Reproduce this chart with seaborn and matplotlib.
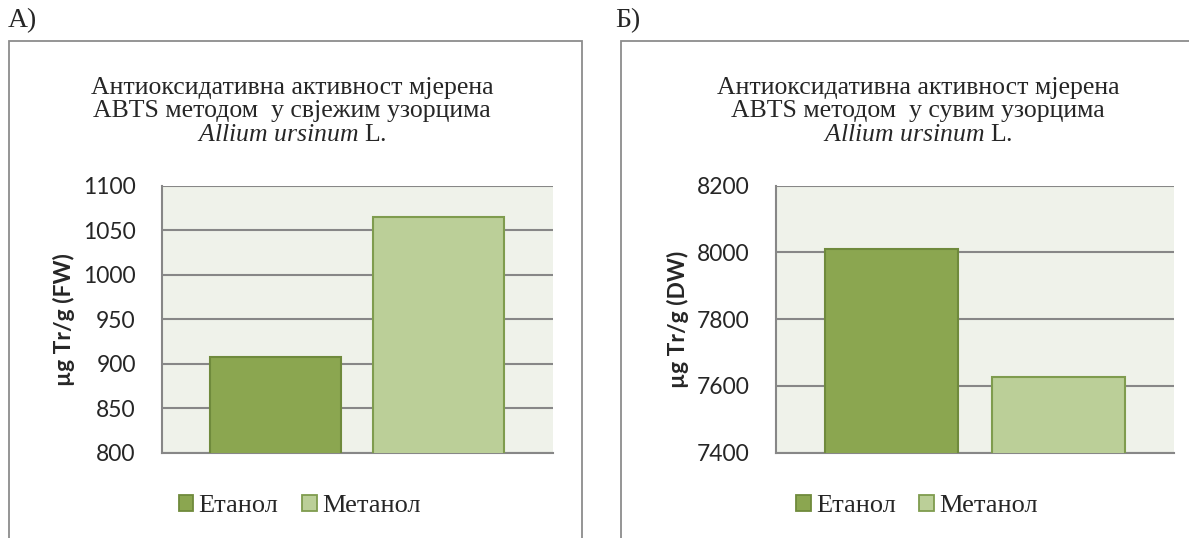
import pandas as pd
import seaborn as sns
import matplotlib.pyplot as plt
from matplotlib.patches import Rectangle

# Data
SOLVENTS = ['Етанол', 'Метанол']
FRESH_VALUES = [907, 1065]
DRY_VALUES = [8010, 7628]
PANEL_LABELS = ['А)', 'Б)']
TITLES = [
    'Антиоксидативна активност мјерена\nABTS методом  у свјежим узорцима\n$\\mathit{Allium\\ ursinum}$ L.',
    'Антиоксидативна активност мјерена\nABTS методом  у сувим узорцима\n$\\mathit{Allium\\ ursinum}$ L.',
]
YLABELS = ['µg Tr/g (FW)', 'µg Tr/g (DW)']
YLIMS = [(800, 1100), (7400, 8200)]
YSTEPS = [50, 200]

FILL = ['#8BA650', '#BBCF98']
EDGE = ['#6F8A3C', '#7F9C4E']
GRID = '#878787'
PLOT_BG = '#EFF2EA'

sns.set_theme(style='white')
plt.rcParams['font.family'] = ['Liberation Serif', 'DejaVu Serif']
plt.rcParams['mathtext.fontset'] = 'custom'
plt.rcParams['mathtext.rm'] = 'Liberation Serif'
plt.rcParams['mathtext.it'] = 'Liberation Serif:italic'

fig = plt.figure(figsize=(11.89, 5.38), dpi=100)
W, H = 1189, 538

axes_px = [(161.5, 391.2), (775.5, 398.9)]
box_px = [(9, 582), (621, 1200)]
centers_px = [292, 918]
legend_px = [299.5, 917]
label_px = [8, 615]
ylabel_x = [-0.222, -0.217]

for i in range(2):
    # outer chart box
    x0, x1 = box_px[i]
    fig.patches.append(Rectangle((x0 / W, -0.02), (x1 - x0) / W, 1 - 41 / H + 0.02,
                                 transform=fig.transFigure, fill=False,
                                 edgecolor='#8C8C8C', linewidth=1.3))
    fig.text(label_px[i] / W, 1 - 21 / H, PANEL_LABELS[i], fontsize=20,
             ha='left', va='center')
    fig.text(centers_px[i] / W, 1 - 77 / H, TITLES[i], fontsize=18.5,
             ha='center', va='top', linespacing=1.08)

    left, width = axes_px[i]
    ax = fig.add_axes([left / W, (H - 452.7) / H, width / W, 267 / H])
    ax.set_facecolor(PLOT_BG)
    values = FRESH_VALUES if i == 0 else DRY_VALUES
    df = pd.DataFrame({'group': [''] * 2, 'solvent': SOLVENTS, 'value': values})
    sns.barplot(data=df, x='group', y='value', hue='solvent', hue_order=SOLVENTS,
                palette=FILL, width=0.834, gap=0.2, saturation=1, ax=ax, legend=False)
    for j, cont in enumerate(ax.containers):
        for bar in cont:
            bar.set_edgecolor(EDGE[j])
            bar.set_linewidth(1.5)
            bar.set_zorder(3)

    lo, hi = YLIMS[i]
    ax.set_ylim(lo, hi)
    ax.set_xlim(-0.5, 0.5)
    ax.set_yticks(range(lo, hi + 1, YSTEPS[i]))
    ax.yaxis.grid(True, color=GRID, linewidth=1.5)
    ax.set_axisbelow(True)
    ax.set_xticks([])
    ax.set_xlabel('')
    ax.tick_params(axis='y', length=0, pad=18.5, labelsize=16.5)
    for lab in ax.get_yticklabels():
        lab.set_family('Lato')
    ax.set_ylabel(YLABELS[i], family='Lato', fontweight='bold', fontsize=16.5)
    ax.yaxis.set_label_coords(ylabel_x[i], 0.5)
    for side in ['top', 'right']:
        ax.spines[side].set_visible(False)
    for side in ['left', 'bottom']:
        ax.spines[side].set_color(GRID)
        ax.spines[side].set_linewidth(1.5)

    handles = [Rectangle((0, 0), 1, 1, facecolor=FILL[k], edgecolor=EDGE[k], linewidth=1.3)
               for k in range(2)]
    fig.legend(handles, SOLVENTS, loc='center', ncol=2, frameon=False,
               bbox_to_anchor=(legend_px[i] / W, 1 - 506 / H), fontsize=19,
               handlelength=0.55, handleheight=0.55, handletextpad=0.2,
               columnspacing=0.9, borderpad=0)

fig.savefig('out.png', dpi=100)
